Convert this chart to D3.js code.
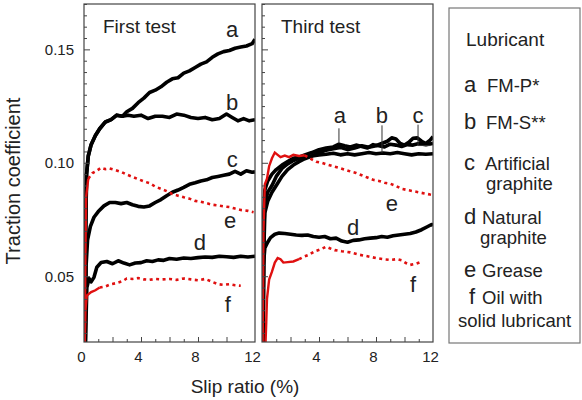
<!DOCTYPE html>
<html lang="en">
<head>
<meta charset="UTF-8" />
<title>Traction coefficient vs slip ratio</title>
<script src="https://d3js.org/d3.v7.min.js"></script>
<style>
  body { margin: 0; background: #fff; }
  svg text { font-family: "Liberation Sans", Arial, sans-serif; fill: #222; }
</style>
</head>
<body>
<div id="chart"></div>
<script>
// ---- data (slip ratio %, traction coefficient) ----
const panelTitles = ["First test", "Third test"];
const xTickLabels = [[0, 4, 8, 12], [4, 8, 12]];
const yTickLabels = [0.05, 0.10, 0.15];

// first test
const a1 = [[0.08,0.021],[0.12,0.07],[0.18,0.095],[0.3,0.103],[0.5,0.108],[0.8,0.112],[1.1,0.115],[1.5,0.118],[1.9,0.119],[2.3,0.121],[2.7,0.1205],[3.0,0.1225],[3.4,0.124],[3.8,0.1265],[4.2,0.1285],[4.6,0.131],[5.0,0.132],[5.4,0.1335],[5.8,0.1355],[6.2,0.137],[6.6,0.1375],[7.0,0.1395],[7.4,0.1405],[7.8,0.142],[8.2,0.1435],[8.6,0.1445],[9.0,0.1465],[9.4,0.148],[9.8,0.149],[10.2,0.1495],[10.6,0.1505],[11.0,0.151],[11.4,0.1515],[11.8,0.1525],[12,0.1545]];
const b1 = [[0.08,0.021],[0.12,0.07],[0.18,0.095],[0.3,0.103],[0.5,0.108],[0.8,0.112],[1.1,0.115],[1.5,0.118],[1.9,0.119],[2.3,0.121],[2.7,0.1205],[3.1,0.121],[3.5,0.1205],[4,0.121],[4.5,0.1195],[5,0.1205],[5.5,0.1205],[6,0.12],[6.5,0.1215],[7,0.121],[7.5,0.12],[8,0.1195],[8.5,0.12],[9,0.119],[9.5,0.1195],[10,0.1215],[10.4,0.12],[10.8,0.1185],[11.2,0.1195],[11.6,0.1185],[12,0.119]];
const c1 = [[0.1,0.021],[0.15,0.055],[0.25,0.066],[0.45,0.072],[0.7,0.076],[1.0,0.0785],[1.4,0.081],[1.8,0.0825],[2.2,0.0825],[2.6,0.082],[3.0,0.0825],[3.4,0.0815],[3.8,0.0808],[4.2,0.0805],[4.6,0.081],[5.0,0.0825],[5.4,0.0838],[5.8,0.0855],[6.2,0.087],[6.6,0.088],[7.0,0.0892],[7.4,0.0905],[7.8,0.0912],[8.2,0.092],[8.6,0.0925],[9.0,0.0935],[9.4,0.094],[9.8,0.0945],[10.2,0.095],[10.6,0.0962],[11.0,0.095],[11.4,0.0965],[11.8,0.0958],[12,0.096]];
const d1 = [[0.1,0.021],[0.2,0.045],[0.35,0.049],[0.5,0.0475],[0.7,0.0495],[0.9,0.054],[1.2,0.056],[1.6,0.0565],[2.0,0.0555],[2.4,0.0568],[2.8,0.0558],[3.2,0.055],[3.6,0.0558],[4.0,0.056],[4.4,0.0568],[4.8,0.0565],[5.2,0.0572],[5.6,0.057],[6.0,0.0578],[6.5,0.0575],[7.0,0.058],[7.5,0.0578],[8.0,0.0582],[8.5,0.0585],[9.0,0.0583],[9.5,0.0588],[10,0.0586],[10.5,0.0583],[11,0.0588],[11.5,0.0585],[12,0.0588]];
const e1 = [[0.05,0.021],[0.1,0.06],[0.15,0.085],[0.3,0.093],[0.6,0.0955],[0.9,0.0965],[1.2,0.0978],[1.5,0.0972],[1.8,0.0975],[2.2,0.0968],[2.6,0.096],[3.0,0.0948],[3.4,0.0938],[3.8,0.0928],[4.2,0.0918],[4.6,0.091],[5.0,0.0895],[5.4,0.0885],[5.8,0.0875],[6.2,0.0862],[6.6,0.0855],[7.0,0.0848],[7.4,0.0842],[7.8,0.0832],[8.2,0.0828],[8.6,0.0822],[9.0,0.0815],[9.4,0.0812],[9.8,0.0808],[10.2,0.0805],[10.6,0.0798],[11.0,0.0792],[11.5,0.0788],[11.9,0.0782]];
const f1 = [[0.05,0.021],[0.1,0.035],[0.2,0.0415],[0.5,0.043],[0.8,0.0438],[1.1,0.045],[1.5,0.0455],[1.9,0.0465],[2.3,0.047],[2.7,0.0478],[3.0,0.049],[3.4,0.0488],[3.8,0.0492],[4.2,0.0486],[4.6,0.0484],[5.0,0.0488],[5.5,0.0486],[6.0,0.0488],[6.5,0.0484],[7.0,0.049],[7.5,0.0486],[8.0,0.0482],[8.5,0.0488],[9.0,0.0475],[9.4,0.0465],[9.8,0.0462],[10.2,0.0465],[10.6,0.046],[11.0,0.0458]];

// third test
const a3 = [[0.08,0.021],[0.12,0.075],[0.2,0.088],[0.4,0.092],[0.7,0.095],[1.0,0.097],[1.4,0.099],[1.8,0.1005],[2.2,0.102],[2.6,0.1025],[3.0,0.1035],[3.5,0.1045],[4.0,0.1058],[4.5,0.1065],[5.0,0.107],[5.4,0.1082],[5.8,0.1075],[6.2,0.107],[6.6,0.1078],[7.0,0.1072],[7.4,0.1065],[7.8,0.108],[8.2,0.1075],[8.6,0.107],[9.0,0.1082],[9.4,0.1078],[9.8,0.1072],[10.2,0.108],[10.6,0.1078],[11.0,0.1085],[11.5,0.108],[12,0.1085]];
const b3 = [[0.08,0.021],[0.12,0.07],[0.2,0.082],[0.4,0.087],[0.7,0.09],[1.0,0.094],[1.4,0.0975],[1.8,0.0995],[2.2,0.101],[2.6,0.102],[3.0,0.1025],[3.5,0.103],[4.0,0.1035],[4.5,0.1038],[5.0,0.1042],[5.5,0.1035],[6.0,0.104],[6.5,0.1035],[7.0,0.104],[7.5,0.1045],[8.0,0.104],[8.5,0.1043],[9.0,0.104],[9.5,0.1045],[10.0,0.104],[10.5,0.1035],[11.0,0.104],[11.5,0.1038],[12,0.104]];
const c3 = [[0.08,0.021],[0.12,0.06],[0.2,0.078],[0.4,0.083],[0.7,0.087],[1.0,0.09],[1.4,0.094],[1.8,0.097],[2.2,0.099],[2.6,0.1005],[3.0,0.1018],[3.5,0.103],[4.0,0.1045],[4.5,0.1055],[5.0,0.1062],[5.5,0.1068],[6.0,0.1058],[6.5,0.1065],[7.0,0.1075],[7.5,0.1068],[8.0,0.1075],[8.4,0.1085],[8.8,0.1095],[9.1,0.111],[9.4,0.1105],[9.7,0.1085],[10.0,0.1078],[10.3,0.109],[10.6,0.1108],[10.9,0.111],[11.2,0.1095],[11.5,0.1085],[11.8,0.11],[12,0.1115]];
const d3s = [[0.05,0.021],[0.1,0.055],[0.2,0.0625],[0.4,0.065],[0.6,0.067],[0.9,0.0685],[1.2,0.069],[1.6,0.0688],[2.0,0.0685],[2.4,0.0682],[2.8,0.068],[3.2,0.0682],[3.6,0.0675],[4.0,0.0672],[4.4,0.0675],[4.8,0.0665],[5.2,0.0668],[5.6,0.0655],[6.0,0.065],[6.4,0.0658],[6.8,0.066],[7.2,0.0665],[7.6,0.0668],[8.0,0.067],[8.4,0.0675],[8.8,0.0672],[9.2,0.0678],[9.6,0.0682],[10.0,0.0685],[10.4,0.0688],[10.8,0.0695],[11.2,0.0705],[11.6,0.0718],[11.9,0.0728],[12,0.0725]];
const e3 = [[0.05,0.021],[0.1,0.07],[0.2,0.0905],[0.35,0.093],[0.5,0.0985],[0.7,0.102],[0.9,0.1045],[1.1,0.1035],[1.3,0.1025],[1.6,0.1032],[1.9,0.1025],[2.2,0.1035],[2.6,0.103],[3.0,0.1033],[3.4,0.1018],[3.8,0.1005],[4.2,0.1],[4.6,0.0992],[5.0,0.0985],[5.4,0.0978],[5.8,0.097],[6.2,0.0962],[6.6,0.0955],[7.0,0.0945],[7.4,0.0935],[7.8,0.0925],[8.2,0.092],[8.6,0.0912],[9.0,0.0908],[9.4,0.0898],[9.8,0.0885],[10.2,0.088],[10.6,0.0875],[11.0,0.087],[11.4,0.0865],[11.8,0.086],[12,0.0858]];
const f3 = [[0.25,0.021],[0.3,0.03],[0.35,0.04],[0.5,0.0485],[0.7,0.052],[0.9,0.056],[1.1,0.058],[1.3,0.0575],[1.5,0.056],[1.8,0.0562],[2.2,0.0565],[2.6,0.0575],[2.9,0.0585],[3.3,0.0595],[3.7,0.061],[4.1,0.0618],[4.5,0.063],[4.8,0.0622],[5.1,0.0615],[5.6,0.061],[6.2,0.0605],[6.8,0.0595],[7.4,0.0588],[8.0,0.058],[8.5,0.0575],[9.0,0.0572],[9.5,0.0575],[9.8,0.057],[10.1,0.0558],[10.4,0.055],[10.8,0.0555],[11.1,0.0562]];

// curve letters sit at these (slip, coefficient) spots, baseline
const labels1 = [["a",10.4,0.1555],["b",10.4,0.1233],["c",10.4,0.0982],["e",10.25,0.0714],["d",8.14,0.0617],["f",10.1,0.0344]];
const labels3 = [["a",5.47,0.1176],["b",8.42,0.1176],["c",10.95,0.1176],["e",9.12,0.0789],["d",6.39,0.0683],["f",10.6,0.0432]];
const leaders3 = [
  [[5.4,0.1152],[5.4,0.1086]],
  [[8.42,0.1165],[8.42,0.1044]],
  [[10.95,0.1168],[10.95,0.1076],[11.8,0.1076]]
];

const legendLetters = ["a", "b", "c", "d", "e", "f"];
const legendNames = [["FM-P*"], ["FM-S**"], ["Artificial", "graphite"], ["Natural", "graphite"], ["Grease"], ["Oil with", "solid lubricant"]];

// ---- drawing ----
const W = 582, H = 400;
const svg = d3.select("#chart").append("svg").attr("width", W).attr("height", H);

const y = d3.scaleLinear().domain([0.021, 0.170]).range([342, 4]);
const panels = [
  { x0: 84, x1: 255, title: panelTitles[0], ticks: xTickLabels[0], labels: labels1, leaders: [],
    series: [
      { d: a1, red: false }, { d: b1, red: false }, { d: c1, red: false }, { d: d1, red: false },
      { d: e1, red: true, solidTo: 0.4 }, { d: f1, red: true, solidTo: 1.2 }
    ] },
  { x0: 262, x1: 433, title: panelTitles[1], ticks: xTickLabels[1], labels: labels3, leaders: leaders3,
    series: [
      { d: a3, red: false }, { d: b3, red: false }, { d: c3, red: false }, { d: d3s, red: false },
      { d: e3, red: true, solidTo: 3.3 }, { d: f3, red: true, solidTo: 2.6 }
    ] }
];

const minorY = d3.range(0.025, 0.1701, 0.005).filter(v => !yTickLabels.some(m => Math.abs(m - v) < 1e-6));

panels.forEach((p, i) => {
  const x = d3.scaleLinear().domain([0, 12]).range([p.x0, p.x1]);
  const g = svg.append("g");
  const clipId = "clip" + i;
  svg.append("clipPath").attr("id", clipId).append("rect")
    .attr("x", p.x0).attr("y", 4).attr("width", p.x1 - p.x0).attr("height", 338);

  const line = d3.line().x(d => x(d[0])).y(d => y(d[1]));
  const plot = g.append("g").attr("clip-path", `url(#${clipId})`);

  p.series.forEach(s => {
    if (!s.red) {
      plot.append("path").attr("d", line(s.d)).attr("fill", "none")
        .attr("stroke", "#000").attr("stroke-width", 3.6).attr("stroke-linejoin", "round");
    } else {
      const solid = s.d.filter(d => d[0] <= s.solidTo);
      const dotted = s.d.filter(d => d[0] >= solid[solid.length - 1][0]);
      plot.append("path").attr("d", line(solid)).attr("fill", "none")
        .attr("stroke", "#e01010").attr("stroke-width", 2.4);
      plot.append("path").attr("d", line(dotted)).attr("fill", "none")
        .attr("stroke", "#e01010").attr("stroke-width", 2.6).attr("stroke-dasharray", "3,3.5");
    }
  });

  // frame
  g.append("rect").attr("x", p.x0).attr("y", 4).attr("width", p.x1 - p.x0).attr("height", 338)
    .attr("fill", "none").attr("stroke", "#444").attr("stroke-width", 1.2);

  // y ticks, inward
  const yMinor = g.append("g").attr("transform", `translate(${p.x0},0)`)
    .call(d3.axisLeft(y).tickValues(minorY).tickSize(-3).tickFormat(""));
  const yMajor = g.append("g").attr("transform", `translate(${p.x0},0)`)
    .call(d3.axisLeft(y).tickValues(yTickLabels).tickSize(-6).tickPadding(10)
      .tickFormat(i === 0 ? d3.format(".2f") : ""));
  // x ticks, inward
  const xMinor = g.append("g").attr("transform", "translate(0,342)")
    .call(d3.axisBottom(x).tickValues([1, 3, 5, 7, 9, 11]).tickSize(-3).tickFormat(""));
  const xMajor = g.append("g").attr("transform", "translate(0,342)")
    .call(d3.axisBottom(x).tickValues([2, 4, 6, 8, 10]).tickSize(-5).tickFormat(""));
  const xLab = g.append("g").attr("transform", "translate(-3,342)")
    .call(d3.axisBottom(x).tickValues(p.ticks).tickSize(0).tickPadding(9).tickFormat(d3.format("d")));

  [yMinor, yMajor, xMinor, xMajor, xLab].forEach(a => {
    a.select(".domain").remove();
    a.selectAll("line").attr("stroke", "#444");
    a.selectAll("text").style("font-size", "15px").attr("fill", "#333");
  });

  g.append("text").attr("x", p.x0 + 19).attr("y", 33).style("font-size", "19px").text(p.title);

  p.leaders.forEach(l => {
    plot.append("path").attr("d", d3.line().x(d => x(d[0])).y(d => y(d[1]))(l))
      .attr("fill", "none").attr("stroke", "#333").attr("stroke-width", 1);
  });

  g.selectAll("text.lbl").data(p.labels).enter().append("text").attr("class", "lbl")
    .attr("x", d => x(d[1])).attr("y", d => y(d[2]))
    .attr("text-anchor", "middle").style("font-size", "22px").text(d => d[0]);
});

// axis titles
svg.append("text").attr("transform", "translate(20,181) rotate(-90)").attr("text-anchor", "middle")
  .style("font-size", "20px").text("Traction coefficient");
svg.append("text").attr("x", 245).attr("y", 393).attr("text-anchor", "middle")
  .style("font-size", "19px").text("Slip ratio (%)");

// legend box
const lg = svg.append("g");
lg.append("rect").attr("x", 449).attr("y", 8).attr("width", 131).attr("height", 335)
  .attr("fill", "none").attr("stroke", "#777").attr("stroke-width", 1.2);
lg.append("text").attr("x", 466).attr("y", 46).style("font-size", "19px").text("Lubricant");

const legendBase = [92, 129, 170, 224, 277, 304];
const legendSecond = [null, null, 190, 244, null, 327];
const legendTextX = [487, 486, 485, 482, 482, 482];
const legendSecondX = [null, null, 486, 480, null, 458];
legendLetters.forEach((L, i) => {
  lg.append("text").attr("x", i === 5 ? 469 : 464).attr("y", legendBase[i])
    .style("font-size", "22px").text(L);
  lg.append("text").attr("x", legendTextX[i]).attr("y", legendBase[i])
    .style("font-size", "18.5px").text(legendNames[i][0]);
  if (legendNames[i][1]) {
    lg.append("text").attr("x", legendSecondX[i]).attr("y", legendSecond[i])
      .style("font-size", "18.5px").text(legendNames[i][1]);
  }
});
</script>
</body>
</html>
